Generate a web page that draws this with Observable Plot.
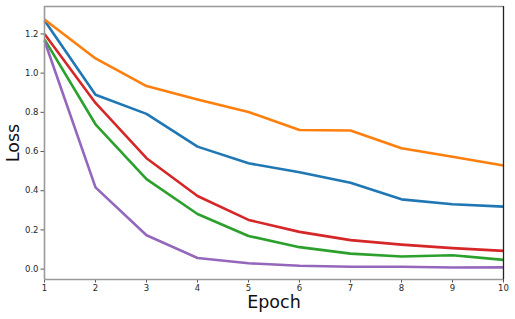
<!DOCTYPE html>
<html>
<head>
<meta charset="utf-8">
<script src="https://cdn.jsdelivr.net/npm/d3@7"></script>
<script src="https://cdn.jsdelivr.net/npm/@observablehq/plot@0.6"></script>
<style>
  html, body { margin: 0; padding: 0; background: #fff; }
  #chart svg { display: block; }
</style>
</head>
<body>
<div id="chart"></div>
<script>
const epochs = [1, 2, 3, 4, 5, 6, 7, 8, 9, 10];
const run1 = [1.268, 0.890, 0.792, 0.625, 0.540, 0.494, 0.441, 0.356, 0.331, 0.319];
const run2 = [1.274, 1.075, 0.934, 0.865, 0.802, 0.710, 0.707, 0.617, 0.573, 0.529];
const run3 = [1.172, 0.739, 0.459, 0.281, 0.169, 0.112, 0.079, 0.064, 0.071, 0.047];
const run4 = [1.200, 0.848, 0.566, 0.373, 0.251, 0.190, 0.148, 0.125, 0.107, 0.093];
const run5 = [1.165, 0.417, 0.173, 0.057, 0.030, 0.017, 0.012, 0.012, 0.008, 0.009];
const seriesNames = ["run1", "run2", "run3", "run4", "run5"];
const seriesValues = [run1, run2, run3, run4, run5];
const seriesColors = ["#1f77b4", "#ff7f0e", "#2ca02c", "#d62728", "#9467bd"];
const yTicks = [0, 0.2, 0.4, 0.6, 0.8, 1.0, 1.2];
const xDomain = [1, 10];
const yDomain = [-0.053, 1.34];

const rows = [];
seriesNames.forEach((s, i) => {
  epochs.forEach((e, j) => rows.push({series: s, epoch: e, loss: seriesValues[i][j]}));
});

const font = "DejaVu Sans, sans-serif";
const chart = Plot.plot({
  width: 515,
  height: 319,
  marginLeft: 44,
  marginRight: 12,
  marginTop: 6,
  marginBottom: 40,
  style: {fontFamily: font, background: "#fff", color: "#262626"},
  x: {domain: xDomain, label: null},
  y: {domain: yDomain, label: null},
  color: {type: "ordinal", domain: seriesNames, range: seriesColors},
  marks: [
    Plot.axisX({ticks: epochs, tickFormat: d3.format("d"), tickSize: 3.5, tickPadding: 2, fontSize: 8.5, stroke: "#555", label: null}),
    Plot.axisY({ticks: yTicks, tickFormat: d3.format(".1f"), tickSize: 3.5, tickPadding: 2.5, fontSize: 8.5, stroke: "#555", label: null}),
    ...seriesNames.map(s => Plot.line(rows.filter(r => r.series === s), {
      x: "epoch", y: "loss", stroke: "series", strokeWidth: 2.6, strokeLinejoin: "round", strokeLinecap: "butt"
    })),
    Plot.ruleY([yDomain[1]], {stroke: "#999", strokeWidth: 1.6}),
    Plot.ruleY([yDomain[0]], {stroke: "#999", strokeWidth: 1.6}),
    Plot.ruleX([xDomain[0]], {stroke: "#999", strokeWidth: 1.6}),
    Plot.ruleX([xDomain[1]], {stroke: "#222", strokeWidth: 1.3}),
    Plot.text(["Epoch"], {frameAnchor: "bottom", lineAnchor: "middle", textAnchor: "middle", dy: 23, fontSize: 17.5, fill: "#111"}),
    Plot.text(["Loss"], {frameAnchor: "left", lineAnchor: "middle", textAnchor: "middle", dx: -31, rotate: -90, fontSize: 17.5, fill: "#111"})
  ]
});
document.getElementById("chart").appendChild(chart);
</script>
</body>
</html>
